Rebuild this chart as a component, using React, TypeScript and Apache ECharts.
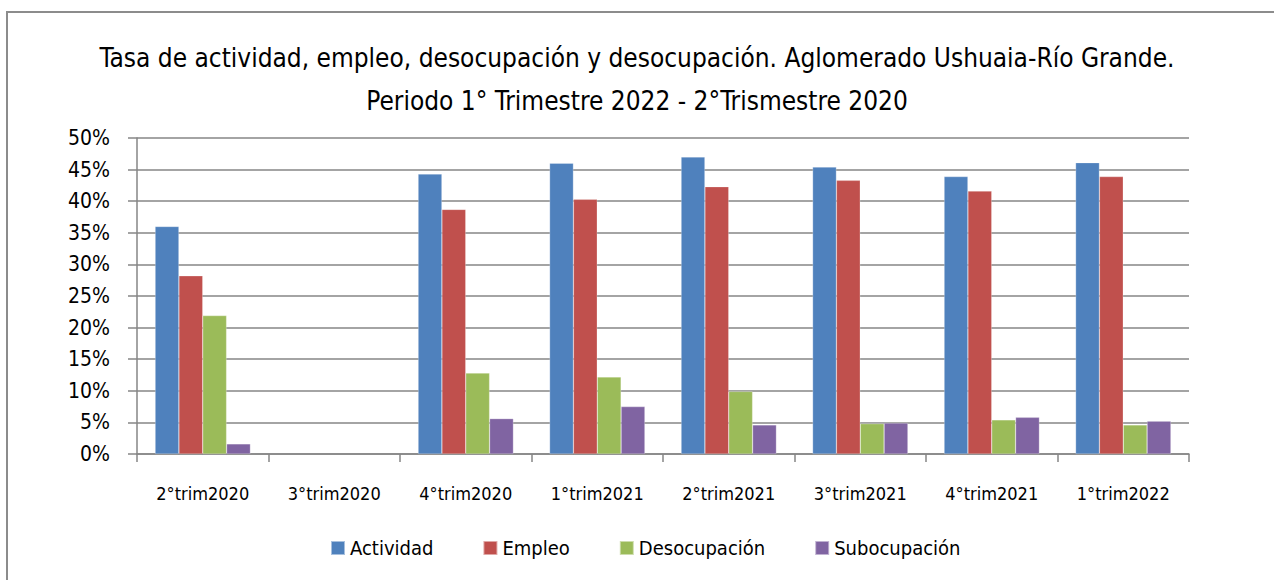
import React, { useEffect, useRef } from "react";
import * as echarts from "echarts";

const categories = ["2°trim2020", "3°trim2020", "4°trim2020", "1°trim2021", "2°trim2021", "3°trim2021", "4°trim2021", "1°trim2022"];
const actividad = [36.0, null, 44.3, 46.0, 47.0, 45.4, 43.9, 46.1];
const empleo = [28.2, null, 38.7, 40.3, 42.3, 43.3, 41.6, 43.9];
const desocupacion = [21.9, null, 12.8, 12.2, 9.9, 4.8, 5.4, 4.6];
const subocupacion = [1.6, null, 5.6, 7.5, 4.6, 4.9, 5.8, 5.2];
const seriesNames = ["Actividad", "Empleo", "Desocupación", "Subocupación"];
const colors = ["#4F81BD", "#C0504D", "#9BBB59", "#8064A2"];
const titleText = "Tasa de actividad, empleo, desocupación y desocupación. Aglomerado Ushuaia-Río Grande.\nPeriodo 1° Trimestre 2022 - 2°Trismestre 2020";

const FONT = "'DejaVu Sans Condensed', 'Liberation Sans Narrow', 'Roboto', sans-serif";

export default function App() {
  const ref = useRef<HTMLDivElement>(null);
  useEffect(() => {
    if (!ref.current) return;
    const chart = echarts.init(ref.current, null, { renderer: "svg" });
    const data = [actividad, empleo, desocupacion, subocupacion];
    chart.setOption({
      animation: false,
      backgroundColor: "#ffffff",
      textStyle: { fontFamily: FONT },
      graphic: [
        {
          type: "rect",
          shape: { x: 7, y: 12, width: 1300, height: 620 },
          style: { fill: "none", stroke: "#8c8c8c", lineWidth: 2 },
          silent: true,
        },
      ],
      title: {
        text: titleText,
        left: "center",
        top: 31,
        textStyle: {
          fontFamily: FONT,
          fontWeight: "normal",
          fontSize: 26,
          lineHeight: 43,
          color: "#000",
        },
      },
      legend: {
        data: seriesNames,
        left: 330,
        top: 538,
        padding: 0,
        itemWidth: 14,
        itemHeight: 14,
        itemGap: 49,
        icon: "rect",
        textStyle: { fontFamily: FONT, fontSize: 20, color: "#000" },
      },
      grid: { left: 137, right: 85, top: 138, bottom: 126 },
      xAxis: {
        type: "category",
        data: categories,
        axisLine: { show: true, lineStyle: { color: "#868686", width: 1.5 } },
        axisTick: { show: true, length: 8, lineStyle: { color: "#868686", width: 1.5 } },
        axisLabel: { interval: 0, fontFamily: FONT, fontSize: 18, color: "#000", margin: 30 },
      },
      yAxis: {
        type: "value",
        min: 0,
        max: 50,
        interval: 5,
        axisLine: { show: true, lineStyle: { color: "#868686", width: 1.5 } },
        axisTick: { show: true, inside: false, length: 9, lineStyle: { color: "#868686", width: 1.5 } },
        axisLabel: { formatter: "{value}%", fontFamily: FONT, fontSize: 21, color: "#000", margin: 27 },
        splitLine: { show: true, lineStyle: { color: "#868686", width: 1.5 } },
      },
      series: seriesNames.map((name, i) => ({
        name,
        type: "bar",
        data: data[i],
        barGap: "0%",
        barCategoryGap: "27.5%",
        itemStyle: { color: colors[i], borderColor: "rgba(255,255,255,0.5)", borderWidth: 0.5 },
      })),
    });
    return () => chart.dispose();
  }, []);
  return <div ref={ref} style={{ position: "fixed", left: 0, top: 0, width: 1274, height: 580 }} />;
}
